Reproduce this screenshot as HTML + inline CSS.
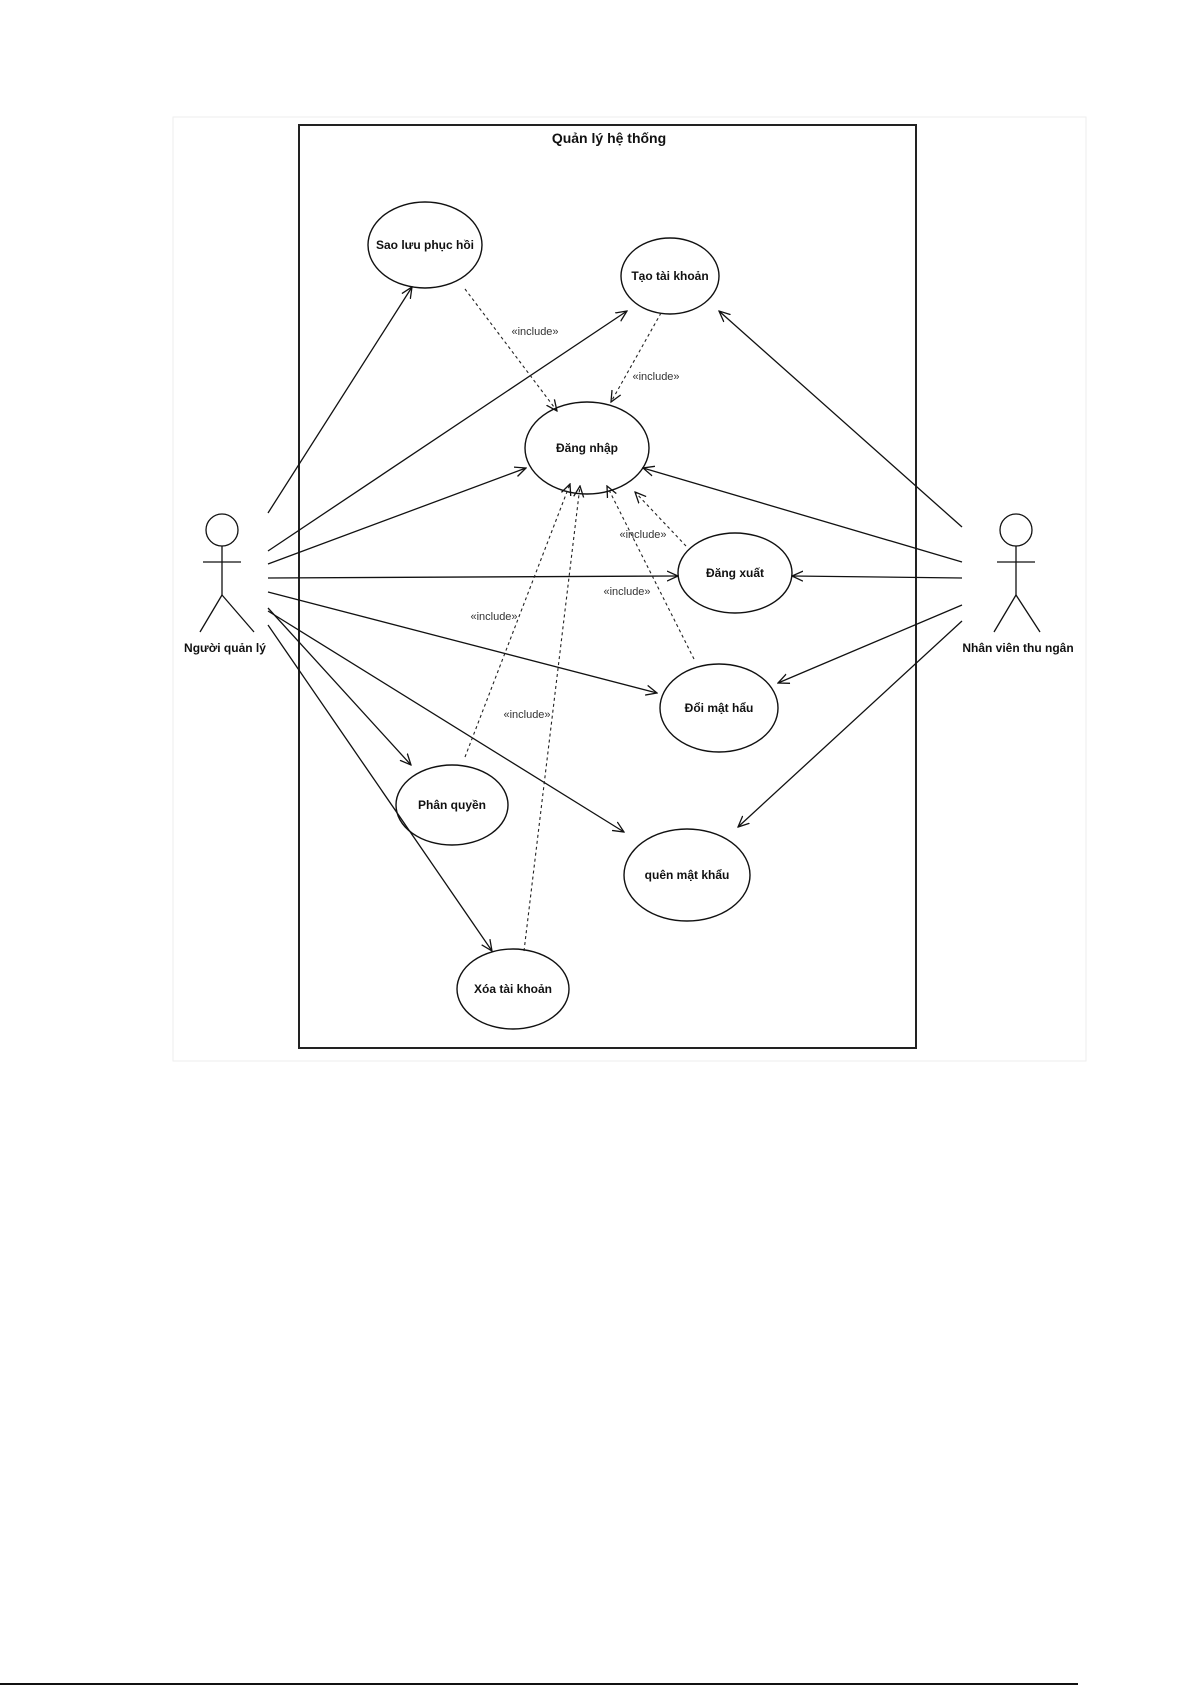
<!DOCTYPE html>
<html><head><meta charset="utf-8"><style>
html,body{margin:0;padding:0;background:#fff;}
svg{display:block;}
text{font-family:"Liberation Sans",sans-serif;fill:#111;}
.u{font-size:12px;font-weight:bold;text-anchor:middle;}
.inc{font-size:11px;text-anchor:middle;fill:#333;}
</style></head><body>
<svg width="1192" height="1685" viewBox="0 0 1192 1685" xmlns="http://www.w3.org/2000/svg">
<defs>
<marker id="a" viewBox="0 0 12 12" refX="11" refY="6" markerWidth="12" markerHeight="12" orient="auto" markerUnits="userSpaceOnUse">
<path d="M0,1 L11,6 L0,11" fill="none" stroke="#111" stroke-width="1.3"/>
</marker>
</defs>
<rect x="173" y="117" width="913" height="944" fill="none" stroke="#eee" stroke-width="1"/>
<rect x="299" y="125" width="617" height="923" fill="#fff" stroke="#222" stroke-width="2"/>
<text x="609" y="143" style="font-size:14px;font-weight:bold;text-anchor:middle">Quản lý hệ thống</text>

<g fill="#fff" stroke="#111" stroke-width="1.4">
<ellipse cx="425" cy="245" rx="57" ry="43"/>
<ellipse cx="670" cy="276" rx="49" ry="38"/>
<ellipse cx="587" cy="448" rx="62" ry="46"/>
<ellipse cx="735" cy="573" rx="57" ry="40"/>
<ellipse cx="719" cy="708" rx="59" ry="44"/>
<ellipse cx="452" cy="805" rx="56" ry="40"/>
<ellipse cx="687" cy="875" rx="63" ry="46"/>
<ellipse cx="513" cy="989" rx="56" ry="40"/>
</g>
<text class="u" x="425" y="249">Sao lưu phục hồi</text>
<text class="u" x="670" y="280">Tạo tài khoản</text>
<text class="u" x="587" y="452">Đăng nhập</text>
<text class="u" x="735" y="577">Đăng xuất</text>
<text class="u" x="719" y="712">Đổi mật hẩu</text>
<text class="u" x="452" y="809">Phân quyền</text>
<text class="u" x="687" y="879">quên mật khẩu</text>
<text class="u" x="513" y="993">Xóa tài khoản</text>

<g stroke="#111" stroke-width="1.3" fill="none">
<circle cx="222" cy="530" r="16"/>
<line x1="222" y1="546" x2="222" y2="595"/>
<line x1="203" y1="562" x2="241" y2="562"/>
<line x1="222" y1="595" x2="200" y2="632"/>
<line x1="222" y1="595" x2="254" y2="632"/>
<circle cx="1016" cy="530" r="16"/>
<line x1="1016" y1="546" x2="1016" y2="595"/>
<line x1="997" y1="562" x2="1035" y2="562"/>
<line x1="1016" y1="595" x2="994" y2="632"/>
<line x1="1016" y1="595" x2="1040" y2="632"/>
</g>
<text x="225" y="652" style="font-size:12px;font-weight:bold;text-anchor:middle">Người quản lý</text>
<text x="1018" y="652" style="font-size:12px;font-weight:bold;text-anchor:middle">Nhân viên thu ngân</text>

<g stroke="#111" stroke-width="1.3" fill="none" marker-end="url(#a)">
<line x1="268" y1="513" x2="412" y2="287"/>
<line x1="268" y1="551" x2="627" y2="311"/>
<line x1="268" y1="564" x2="526" y2="468"/>
<line x1="268" y1="578" x2="678" y2="576"/>
<line x1="268" y1="592" x2="657" y2="693"/>
<line x1="268" y1="611" x2="624" y2="832"/>
<line x1="268" y1="608" x2="411" y2="765"/>
<line x1="268" y1="625" x2="492" y2="951"/>
<line x1="962" y1="527" x2="719" y2="311"/>
<line x1="962" y1="562" x2="643" y2="468"/>
<line x1="962" y1="578" x2="792" y2="576"/>
<line x1="962" y1="605" x2="778" y2="683"/>
<line x1="962" y1="621" x2="738" y2="827"/>
</g>
<g stroke="#222" stroke-width="1.1" fill="none" stroke-dasharray="3,3" marker-end="url(#a)">
<line x1="465" y1="289" x2="557" y2="411"/>
<line x1="661" y1="313" x2="611" y2="402"/>
<line x1="686" y1="546" x2="635" y2="492"/>
<line x1="694" y1="659" x2="607" y2="486"/>
<line x1="465" y1="757" x2="570" y2="484"/>
<line x1="524" y1="951" x2="580" y2="486"/>
</g>
<text class="inc" x="535" y="335">«include»</text>
<text class="inc" x="656" y="380">«include»</text>
<text class="inc" x="643" y="538">«include»</text>
<text class="inc" x="627" y="595">«include»</text>
<text class="inc" x="494" y="620">«include»</text>
<text class="inc" x="527" y="718">«include»</text>

<line x1="0" y1="1684" x2="1078" y2="1684" stroke="#111" stroke-width="2"/>
</svg>
</body></html>
